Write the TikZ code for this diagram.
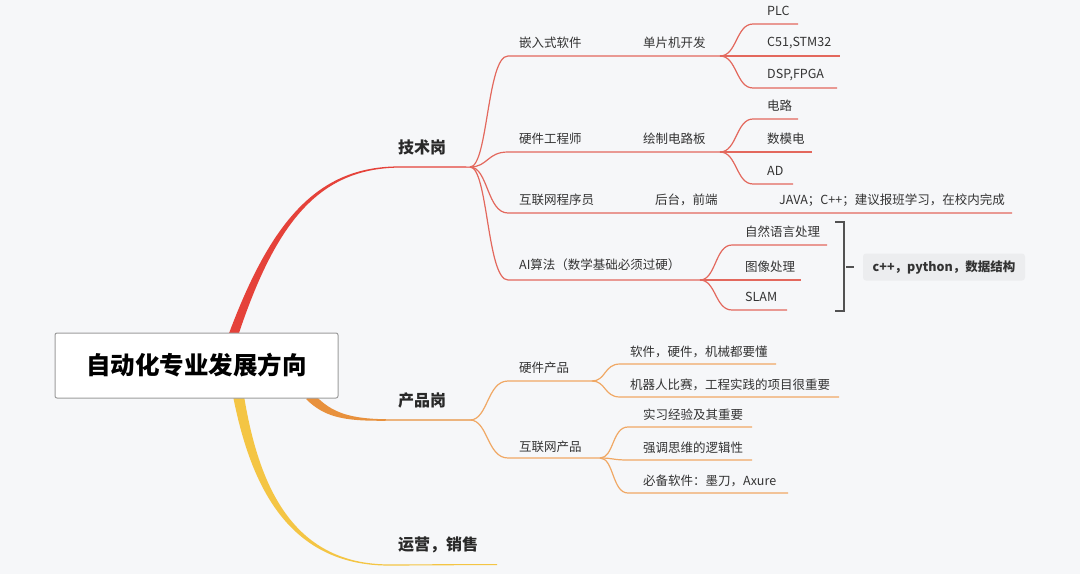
\documentclass[tikz,border=0pt]{standalone}
\usepackage{fontspec}
\setmainfont{Noto Sans CJK SC}
\usepackage{tikz}
\definecolor{sfondo}{HTML}{F6F7F9}
\definecolor{rosso}{HTML}{E5423A}
\definecolor{rossochiaro}{HTML}{E3685D}
\definecolor{arancio}{HTML}{E8913D}
\definecolor{aranciochiaro}{HTML}{F0A865}
\definecolor{giallo}{HTML}{F4C544}
\definecolor{testo}{HTML}{333333}
\definecolor{grigio}{HTML}{9C9C9C}
\definecolor{riquadro}{HTML}{ECEDEF}

\tikzset{
  foglia/.style={anchor=west,inner sep=0pt,text=testo,font=\fontsize{12.5}{14}\selectfont},
  ramo/.style={anchor=west,inner sep=0pt,text=testo!80!black,font=\bfseries\fontsize{16}{18}\selectfont},
  lrosso/.style={rossochiaro,line width=1.2pt},
  larancio/.style={aranciochiaro,line width=1.2pt}
}

\begin{document}
\begin{tikzpicture}[x=1pt,y=-1pt]

% sfondo
\fill[sfondo] (0,0) rectangle (1080,574);
\useasboundingbox (0,0) rectangle (1080,574);

%========================
% Rami principali
%========================

\coordinate (jtec) at (470,167);
\coordinate (jprod) at (470,420);
\coordinate (jops) at (497,565);

% ramo rosso
\fill[rosso] (228,336) .. controls (271,220) and (318,166) .. (400,166.4)
  -- (470,166.5) -- (470,167.5) -- (400,167.6) .. controls (320,168) and (276,221) .. (238,336) -- cycle;

% ramo arancio
\fill[arancio] (314,394) .. controls (332,414) and (352,419) .. (390,419.3)
  -- (470,419.4) -- (470,420.6) -- (390,420.7) .. controls (348,421.2) and (326,419) .. (306,399) -- cycle;

% ramo giallo
\fill[giallo] (233,396) .. controls (250,482) and (286,566) .. (390,565.6)
  -- (jops) -- ++(0,-1) -- (390,564.4) .. controls (290,564.8) and (258,481) .. (244,396) -- cycle;

% nodo centrale
\node[draw=grigio,line width=1pt,fill=white,rounded corners=2pt,
      minimum width=283pt,minimum height=65pt,
      font=\bfseries\fontsize{24.5}{28}\selectfont] (root) at (196.5,365.5) {自动化专业发展方向};

% etichette rami
\node[ramo] (tec) at (398,147) {技术岗};
\node[ramo] (prod) at (398,400) {产品岗};
\node[ramo] (ops) at (398,545) {运营，销售};

%========================
% Technical
%========================

\coordinate (mcu) at (720,56);
\coordinate (pcb) at (720,152);
\coordinate (ai) at (700,280);

\draw[lrosso] (jtec) .. controls (488,167) and (487,56) .. (508,56) -- (mcu);
\draw[lrosso] (jtec) .. controls (488,167) and (487,152) .. (508,152) -- (pcb);
\draw[lrosso] (jtec) .. controls (488,167) and (487,213) .. (508,213) -- (1012,213);
\draw[lrosso] (jtec) .. controls (488,167) and (487,280) .. (508,280) -- (ai);

\node[foglia] (emb) at (519,43) {嵌入式软件};
\node[foglia] (mcudev) at (643,43) {单片机开发};
\node[foglia] (hweng) at (519,139) {硬件工程师};
\node[foglia] (pcbdev) at (643,139) {绘制电路板};
\node[foglia] (web) at (519,200) {互联网程序员};
\node[foglia] (back) at (655,200) {后台，前端};
\node[foglia] (java) at (779,200) {JAVA；C++；建议报班学习，在校内完成};
\node[foglia] (aialg) at (519,265) {AI算法（数学基础必须过硬）};

% foglie mcu
\foreach \n/\yl/\xe/\txt in {plc/24/798/PLC, c51/56/840/{C51,STM32}, dsp/88/837/{DSP,FPGA}}
{
  \draw[lrosso] (mcu) .. controls (737,56) and (736,\yl) .. (753,\yl) -- (\xe,\yl);
  \node[foglia] (\n) at (767,\yl-13) {\txt};
}

% foglie pcb
\foreach \n/\yl/\xe/\txt in {circ/119/798/电路, adda/152/812/数模电, ad/184/793/AD}
{
  \draw[lrosso] (pcb) .. controls (737,152) and (736,\yl) .. (753,\yl) -- (\xe,\yl);
  \node[foglia] (\n) at (767,\yl-13) {\txt};
}

% foglie ai
\foreach \n/\yl/\xe/\txt in {nlp/245/827/自然语言处理, img/280/801/图像处理, slam/310/787/SLAM}
{
  \draw[lrosso] (ai) .. controls (716,280) and (715,\yl) .. (732,\yl) -- (\xe,\yl);
  \node[foglia] (\n) at (745,\yl-13) {\txt};
}

% parentesi
\draw[testo!85,line width=1.5pt] (835,222) -- (844,222) -- (844,311) -- (835,311);
\coordinate (brk) at (846,267);
\node[fill=riquadro,rounded corners=3pt,minimum width=162pt,minimum height=27pt,
      text=testo,font=\bfseries\fontsize{12.5}{14}\selectfont] (cpp) at (944,267) {c++，python，数据结构};
\draw[testo!85,line width=1.5pt] (brk) -- ++(8,0);

%========================
% Product
%========================

\coordinate (hwp) at (592,381);
\coordinate (webp) at (600,458);

\draw[larancio] (jprod) .. controls (488,420) and (487,381) .. (508,381) -- (hwp);
\draw[larancio] (jprod) .. controls (488,420) and (487,458) .. (508,458) -- (webp);

\node[foglia] (hwprod) at (519,368) {硬件产品};
\node[foglia] (webprod) at (519,447) {互联网产品};

\foreach \n/\yl/\xe/\txt in {sw/364/776/软件，硬件，机械都要懂, robo/397/839/机器人比赛，工程实践的项目很重要}
{
  \draw[larancio] (hwp) .. controls (606,381) and (604,\yl) .. (620,\yl) -- (\xe,\yl);
  \node[foglia] (\n) at (630,\yl-12) {\txt};
}

\foreach \n/\yl/\xe/\txt in {intern/427/752/实习经验及其重要, logic/460/752/强调思维的逻辑性, tools/493/788/必备软件：墨刀，Axure}
{
  \draw[larancio] (webp) .. controls (614,458) and (612,\yl) .. (628,\yl) -- (\xe,\yl);
  \node[foglia] (\n) at (643,\yl-12) {\txt};
}

\end{tikzpicture}
\end{document}
